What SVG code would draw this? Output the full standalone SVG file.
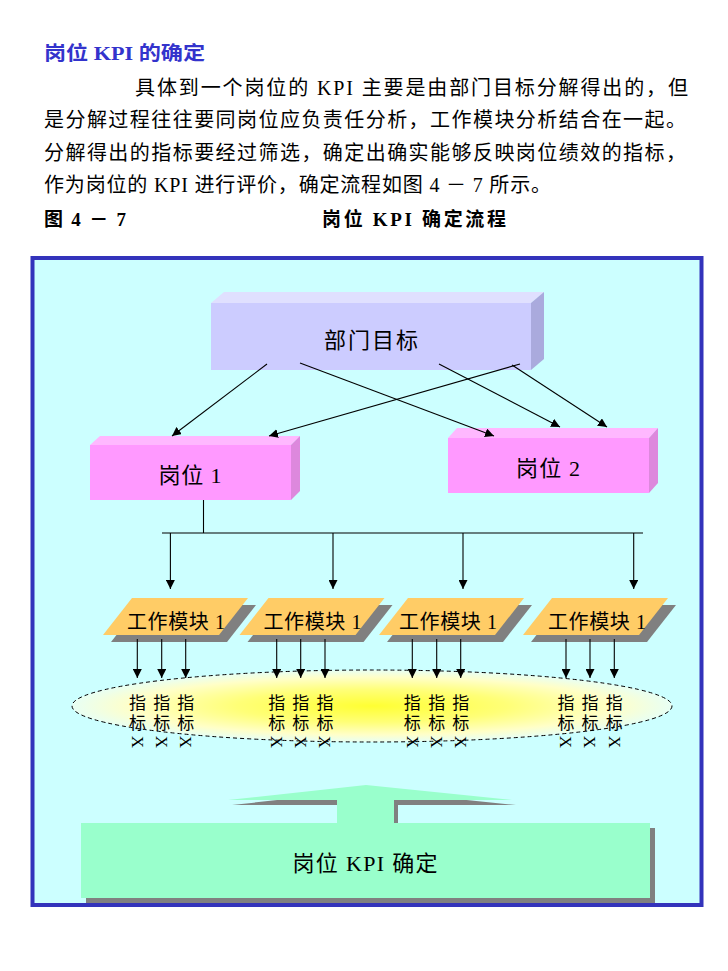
<svg xmlns="http://www.w3.org/2000/svg" width="728" height="971" viewBox="0 0 728 971">
<style>
.t{font-family:"Liberation Serif","Noto Sans CJK SC",serif;fill:#000}
.b{font-weight:bold}
.c{text-anchor:middle}
.ln{stroke:#000;stroke-width:1.1;fill:none}
.shadow{fill:#808080}
.mint{fill:#99ffcc}
.wm{fill:#ffcc66}
</style>
<defs>
<marker id="ah" viewBox="0 0 10 10" refX="10" refY="5" markerWidth="9" markerHeight="9" markerUnits="userSpaceOnUse" orient="auto">
<path d="M0,0 L10,5 L0,10 z" fill="#000"/>
</marker>
<radialGradient id="yg" cx="50%" cy="50%" r="50%">
<stop offset="0" stop-color="#ffff33"/>
<stop offset="0.45" stop-color="#ffff77"/>
<stop offset="0.8" stop-color="#ffffc8"/>
<stop offset="1" stop-color="#e8fff4"/>
</radialGradient>
</defs>
<rect width="728" height="971" fill="#fff"/>
<g id="heading">
<text class="t b" x="44" y="60" font-size="19" style="fill:#3333cc" textLength="161" lengthAdjust="spacingAndGlyphs">岗位 KPI 的确定</text>
<text class="t" x="135" y="95" font-size="20" textLength="553" lengthAdjust="spacing">具体到一个岗位的 KPI 主要是由部门目标分解得出的，但</text>
<text class="t" x="44" y="127" font-size="20" textLength="642" lengthAdjust="spacing">是分解过程往往要同岗位应负责任分析，工作模块分析结合在一起。</text>
<text class="t" x="44" y="160" font-size="20" textLength="642" lengthAdjust="spacing">分解得出的指标要经过筛选，确定出确实能够反映岗位绩效的指标，</text>
<text class="t" x="44" y="192" font-size="20" textLength="507" lengthAdjust="spacing">作为岗位的 KPI 进行评价，确定流程如图 4 － 7 所示。</text>
<text class="t b" x="44" y="226" font-size="19" textLength="82" lengthAdjust="spacing">图 4 － 7</text>
<text class="t b" x="322" y="226" font-size="19" textLength="184" lengthAdjust="spacing">岗位 KPI 确定流程</text>
</g>
<g id="frame">
<rect x="32.5" y="258" width="669" height="647" fill="#ccffff" stroke="#3333bb" stroke-width="4"/>
</g>
<g id="node-dept">
<polygon points="211,303 224,292 544,292 531,303" fill="#e0e0ff"/>
<polygon points="531,303 544,292 544,359 531,370" fill="#aaaadd"/>
<rect x="211" y="303" width="320" height="67" fill="#ccccff"/>
<text class="t c" x="371" y="348" font-size="22" textLength="94" lengthAdjust="spacing">部门目标</text>
</g>
<g id="node-post1">
<polygon points="90,445 100,436 300,436 291,445" fill="#ffb8ff"/>
<polygon points="291,445 300,436 300,491 291,500" fill="#dd88dd"/>
<rect x="90" y="445" width="201" height="55" fill="#ff99ff"/>
<text class="t c" x="190" y="483" font-size="22" textLength="63" lengthAdjust="spacing">岗位 1</text>
</g>
<g id="node-post2">
<polygon points="448,438 457,428 658,428 649,438" fill="#ffb8ff"/>
<polygon points="649,438 658,428 658,483 649,493" fill="#dd88dd"/>
<rect x="448" y="438" width="201" height="55" fill="#ff99ff"/>
<text class="t c" x="548" y="476" font-size="22" textLength="64" lengthAdjust="spacing">岗位 2</text>
</g>
<g id="node-wm1">
<polygon class="shadow" points="140,605 256,605 227,642 111,642"/>
<polygon class="wm" points="132,598 248,598 219,635 103,635"/>
<text class="t c" x="176" y="629" font-size="20" textLength="98" lengthAdjust="spacing">工作模块 1</text>
</g>
<g id="node-wm2">
<polygon class="shadow" points="276.5,605 392.5,605 363.5,642 247.5,642"/>
<polygon class="wm" points="268.5,598 384.5,598 355.5,635 239.5,635"/>
<text class="t c" x="312.5" y="629" font-size="20" textLength="98" lengthAdjust="spacing">工作模块 1</text>
</g>
<g id="node-wm3">
<polygon class="shadow" points="416,605 532,605 503,642 387,642"/>
<polygon class="wm" points="408,598 524,598 495,635 379,635"/>
<text class="t c" x="448" y="629" font-size="20" textLength="98" lengthAdjust="spacing">工作模块 1</text>
</g>
<g id="node-wm4">
<polygon class="shadow" points="560,605 676,605 647,642 531,642"/>
<polygon class="wm" points="552,598 668,598 639,635 523,635"/>
<text class="t c" x="597" y="629" font-size="20" textLength="98" lengthAdjust="spacing">工作模块 1</text>
</g>
<g id="node-indicators">
<ellipse cx="372" cy="706" rx="300" ry="36" fill="url(#yg)" stroke="#000" stroke-width="1" stroke-dasharray="4,3"/>
<g class="t" font-size="17" text-anchor="middle">
<text x="137.5" y="709">指</text><text x="137.5" y="729">标</text>
<text x="161.7" y="709">指</text><text x="161.7" y="729">标</text>
<text x="185.7" y="709">指</text><text x="185.7" y="729">标</text>
<text x="276.7" y="709">指</text><text x="276.7" y="729">标</text>
<text x="300.7" y="709">指</text><text x="300.7" y="729">标</text>
<text x="325" y="709">指</text><text x="325" y="729">标</text>
<text x="412.3" y="709">指</text><text x="412.3" y="729">标</text>
<text x="436.7" y="709">指</text><text x="436.7" y="729">标</text>
<text x="460.7" y="709">指</text><text x="460.7" y="729">标</text>
<text x="566" y="709">指</text><text x="566" y="729">标</text>
<text x="590" y="709">指</text><text x="590" y="729">标</text>
<text x="614.3" y="709">指</text><text x="614.3" y="729">标</text>
</g>
<g class="t" font-size="17" text-anchor="middle">
<text transform="translate(137.5,742) rotate(90)" y="5.6">X</text>
<text transform="translate(161.7,742) rotate(90)" y="5.6">X</text>
<text transform="translate(185.7,742) rotate(90)" y="5.6">X</text>
<text transform="translate(276.7,742) rotate(90)" y="5.6">X</text>
<text transform="translate(300.7,742) rotate(90)" y="5.6">X</text>
<text transform="translate(325,742) rotate(90)" y="5.6">X</text>
<text transform="translate(412.3,742) rotate(90)" y="5.6">X</text>
<text transform="translate(436.7,742) rotate(90)" y="5.6">X</text>
<text transform="translate(460.7,742) rotate(90)" y="5.6">X</text>
<text transform="translate(566,742) rotate(90)" y="5.6">X</text>
<text transform="translate(590,742) rotate(90)" y="5.6">X</text>
<text transform="translate(614.3,742) rotate(90)" y="5.6">X</text>
</g>
</g>
<g id="node-up-arrow">
<polygon class="shadow" points="370,790 516,805 398,805 398,828 341,828 341,805 232,805"/>
<polygon class="mint" points="366,785 512,800 394,800 394,825 337,825 337,800 228,800"/>
</g>
<g id="node-kpi">
<rect class="shadow" x="86" y="828" width="569" height="75"/>
<rect class="mint" x="81" y="823" width="569" height="75"/>
<text class="t c" x="365" y="871" font-size="22" textLength="145" lengthAdjust="spacing">岗位 KPI 确定</text>
</g>
<g id="connectors">
<line class="ln" x1="267" y1="364" x2="172" y2="436" marker-end="url(#ah)"/>
<line class="ln" x1="300" y1="363" x2="494" y2="436" marker-end="url(#ah)"/>
<line class="ln" x1="439" y1="364" x2="560" y2="427" marker-end="url(#ah)"/>
<line class="ln" x1="520" y1="364" x2="269" y2="436" marker-end="url(#ah)"/>
<line class="ln" x1="512" y1="365" x2="607" y2="427" marker-end="url(#ah)"/>
<line class="ln" x1="203.5" y1="500" x2="203.5" y2="533"/>
<line class="ln" x1="162" y1="533" x2="643" y2="533"/>
<line class="ln" x1="170.4" y1="533" x2="170.4" y2="589" marker-end="url(#ah)"/>
<line class="ln" x1="333" y1="533" x2="333" y2="589" marker-end="url(#ah)"/>
<line class="ln" x1="463" y1="533" x2="463" y2="589" marker-end="url(#ah)"/>
<line class="ln" x1="633.7" y1="533" x2="633.7" y2="589" marker-end="url(#ah)"/>
<line class="ln" x1="137.3" y1="639" x2="137.3" y2="678" marker-end="url(#ah)"/>
<line class="ln" x1="161.7" y1="639" x2="161.7" y2="678" marker-end="url(#ah)"/>
<line class="ln" x1="185.7" y1="639" x2="185.7" y2="678" marker-end="url(#ah)"/>
<line class="ln" x1="276.7" y1="639" x2="276.7" y2="678" marker-end="url(#ah)"/>
<line class="ln" x1="300.7" y1="639" x2="300.7" y2="678" marker-end="url(#ah)"/>
<line class="ln" x1="325" y1="639" x2="325" y2="678" marker-end="url(#ah)"/>
<line class="ln" x1="412.3" y1="639" x2="412.3" y2="678" marker-end="url(#ah)"/>
<line class="ln" x1="436.7" y1="639" x2="436.7" y2="678" marker-end="url(#ah)"/>
<line class="ln" x1="460.7" y1="639" x2="460.7" y2="678" marker-end="url(#ah)"/>
<line class="ln" x1="566" y1="639" x2="566" y2="678" marker-end="url(#ah)"/>
<line class="ln" x1="590" y1="639" x2="590" y2="678" marker-end="url(#ah)"/>
<line class="ln" x1="614.3" y1="639" x2="614.3" y2="678" marker-end="url(#ah)"/>
</g>
</svg>
